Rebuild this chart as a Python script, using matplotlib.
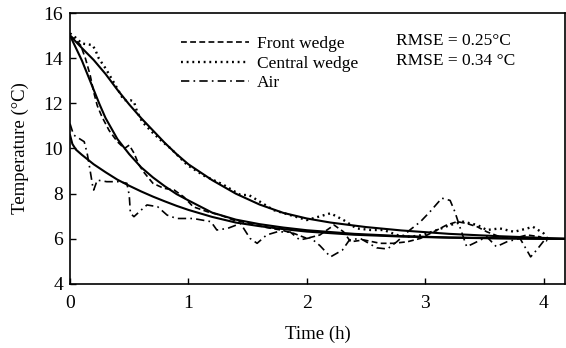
import numpy as np
import matplotlib
matplotlib.use('Agg')
import matplotlib.pyplot as plt

# --- Data ---
# measured curves
front_t = [0, 0.05, 0.09, 0.13, 0.17, 0.2, 0.23, 0.27, 0.33, 0.4, 0.46, 0.5, 0.54, 0.58,
           0.62, 0.7, 0.79, 0.88, 0.96, 1.04, 1.16, 1.27, 1.38, 1.52, 1.66, 1.78, 1.89,
           2.0, 2.11, 2.23, 2.31, 2.37, 2.48, 2.62, 2.73, 2.85, 2.96, 3.07, 3.18, 3.27,
           3.35, 3.44, 3.52, 3.63, 3.75, 3.86, 3.97, 4.03]
front_y = [15.0, 14.8, 14.57, 13.99, 13.25, 12.5, 11.9, 11.4, 10.8, 10.3, 10.0, 10.15,
           9.8, 9.3, 8.97, 8.46, 8.24, 8.16, 7.86, 7.42, 7.2, 7.05, 6.83, 6.68, 6.5, 6.39,
           6.24, 6.02, 6.17, 6.61, 6.31, 5.87, 5.95, 5.8, 5.8, 5.87, 6.02, 6.31, 6.61,
           6.76, 6.68, 6.53, 6.31, 6.09, 6.02, 6.17, 6.09, 5.9]

central_t = [0, 0.05, 0.1, 0.19, 0.215, 0.243, 0.3, 0.384, 0.454, 0.51, 0.54, 0.567,
             0.61, 0.69, 0.78, 0.85, 0.99, 1.13, 1.27, 1.3, 1.44, 1.51, 1.58, 1.72, 1.86,
             2.0, 2.1, 2.2, 2.31, 2.42, 2.54, 2.65, 2.76, 2.87, 2.98, 3.1, 3.21, 3.32,
             3.44, 3.52, 3.63, 3.75, 3.86, 3.91, 4.0, 4.03]
central_y = [15.1, 14.9, 14.65, 14.58, 14.35, 13.99, 13.55, 12.8, 12.14, 12.14, 12.07,
             11.62, 11.18, 10.74, 10.3, 10.0, 9.27, 8.8, 8.46, 8.38, 7.94, 7.94, 7.72,
             7.27, 7.05, 6.83, 6.98, 7.13, 6.83, 6.46, 6.39, 6.39, 6.17, 6.09, 6.17, 6.39,
             6.61, 6.76, 6.61, 6.39, 6.46, 6.31, 6.46, 6.53, 6.24, 6.02]

air_t = [0, 0.03, 0.12, 0.145, 0.16, 0.19, 0.2, 0.23, 0.31, 0.41, 0.48, 0.5, 0.51, 0.54,
         0.6, 0.65, 0.74, 0.82, 0.9, 0.99, 1.04, 1.19, 1.24, 1.33, 1.44, 1.52, 1.58, 1.66,
         1.75, 1.86, 1.94, 2.03, 2.11, 2.2, 2.3, 2.36, 2.45, 2.59, 2.68, 2.76, 2.87, 2.96,
         3.04, 3.14, 3.21, 3.25, 3.3, 3.35, 3.41, 3.52, 3.6, 3.69, 3.8, 3.89, 3.94, 4.0]
air_y = [11.1, 10.6, 10.3, 9.78, 9.34, 8.38, 8.16, 8.6, 8.53, 8.53, 8.46, 7.94, 7.13,
         6.98, 7.27, 7.5, 7.42, 7.05, 6.9, 6.9, 6.9, 6.76, 6.39, 6.46, 6.68, 6.02, 5.8,
         6.17, 6.31, 6.3, 5.95, 6.05, 5.7, 5.2, 5.5, 5.95, 6.02, 5.6, 5.55, 5.87, 6.39,
         6.76, 7.2, 7.8, 7.7, 7.2, 6.4, 5.65, 5.8, 6.09, 5.65, 5.87, 6.02, 5.2, 5.5, 5.9]

# fitted curves
front_fit_t = [0, 0.05, 0.1, 0.15, 0.2, 0.25, 0.3, 0.4, 0.5, 0.6, 0.7, 0.8, 0.9, 1.0,
               1.2, 1.4, 1.6, 1.8, 2.0, 2.4, 2.8, 3.2, 3.6, 4.0, 4.18]
front_fit_y = [15.0, 14.45, 13.9, 13.25, 12.6, 11.95, 11.35, 10.42, 9.75, 9.17, 8.72,
               8.33, 7.98, 7.7, 7.16, 6.85, 6.65, 6.5, 6.38, 6.22, 6.12, 6.06, 6.03,
               6.0, 6.0]

central_fit_t = [0, 0.1, 0.2, 0.3, 0.4, 0.5, 0.6, 0.7, 0.8, 0.9, 1.0, 1.2, 1.4, 1.6,
                 1.8, 2.0, 2.2, 2.5, 2.8, 3.2, 3.6, 4.0, 4.18]
central_fit_y = [15.0, 14.45, 13.92, 13.3, 12.6, 11.95, 11.35, 10.8, 10.25, 9.75, 9.3,
                 8.6, 8.0, 7.52, 7.15, 6.9, 6.72, 6.52, 6.37, 6.22, 6.12, 6.04, 6.0]

air_fit_t = [0, 0.02, 0.05, 0.1, 0.2, 0.3, 0.4, 0.5, 0.6, 0.7, 0.8, 0.9, 1.0, 1.2, 1.4,
             1.6, 1.8, 2.0, 2.4, 2.8, 3.2, 3.6, 4.0, 4.18]
air_fit_y = [10.6, 10.2, 9.95, 9.72, 9.3, 8.95, 8.62, 8.35, 8.1, 7.87, 7.66, 7.46, 7.28,
             6.97, 6.72, 6.56, 6.43, 6.32, 6.18, 6.1, 6.05, 6.02, 6.0, 6.0]

x_ticks = [0, 1, 2, 3, 4]
y_ticks = [4, 6, 8, 10, 12, 14, 16]
rmse_labels = ['RMSE = 0.25\u00b0C', 'RMSE = 0.34 \u00b0C']

plt.rcParams['font.family'] = ['Liberation Serif', 'DejaVu Serif']

fig = plt.figure(figsize=(5.66, 3.48), dpi=100)
ax = fig.add_axes([0.1237, 0.184, 0.8745, 0.7786])

lw_data = 1.2
ax.plot(front_t, front_y, color='black', lw=lw_data, linestyle=(0, (3.5, 2)),
        label='Front wedge')
ax.plot(central_t, central_y, color='black', lw=1.7, linestyle=(0, (0.8, 1.6)),
        label='Central wedge')
ax.plot(air_t, air_y, color='black', lw=lw_data, linestyle=(0, (5, 2.5, 1, 2.5)),
        label='Air')

for ft, fy in [(front_fit_t, front_fit_y), (central_fit_t, central_fit_y),
               (air_fit_t, air_fit_y)]:
    ax.plot(ft, fy, color='black', lw=1.5, solid_capstyle='round')

ax.set_xlim(0, 4.18)
ax.set_ylim(4, 16)
ax.set_xticks(x_ticks)
ax.set_yticks(y_ticks)
ax.tick_params(direction='in', length=4, width=1, labelsize=14)
ax.tick_params(axis='x', pad=8)
ax.tick_params(axis='y', pad=5)
for s in ax.spines.values():
    s.set_linewidth(1.2)

ax.set_xlabel('Time (h)', fontsize=13.5, labelpad=9.5)
ax.set_ylabel('Temperature (\u00b0C)', fontsize=13.5, labelpad=10)

leg = ax.legend(loc='upper left', bbox_to_anchor=(0.224, 0.915), frameon=False,
                fontsize=12.5, handlelength=3.9, handletextpad=0.5,
                labelspacing=0.2, borderpad=0, borderaxespad=0)

ax.text(2.755, 14.75, rmse_labels[0], fontsize=12.5, va='center', ha='left')
ax.text(2.755, 13.87, rmse_labels[1], fontsize=12.5, va='center', ha='left')

fig.savefig('out.png', dpi=100)
